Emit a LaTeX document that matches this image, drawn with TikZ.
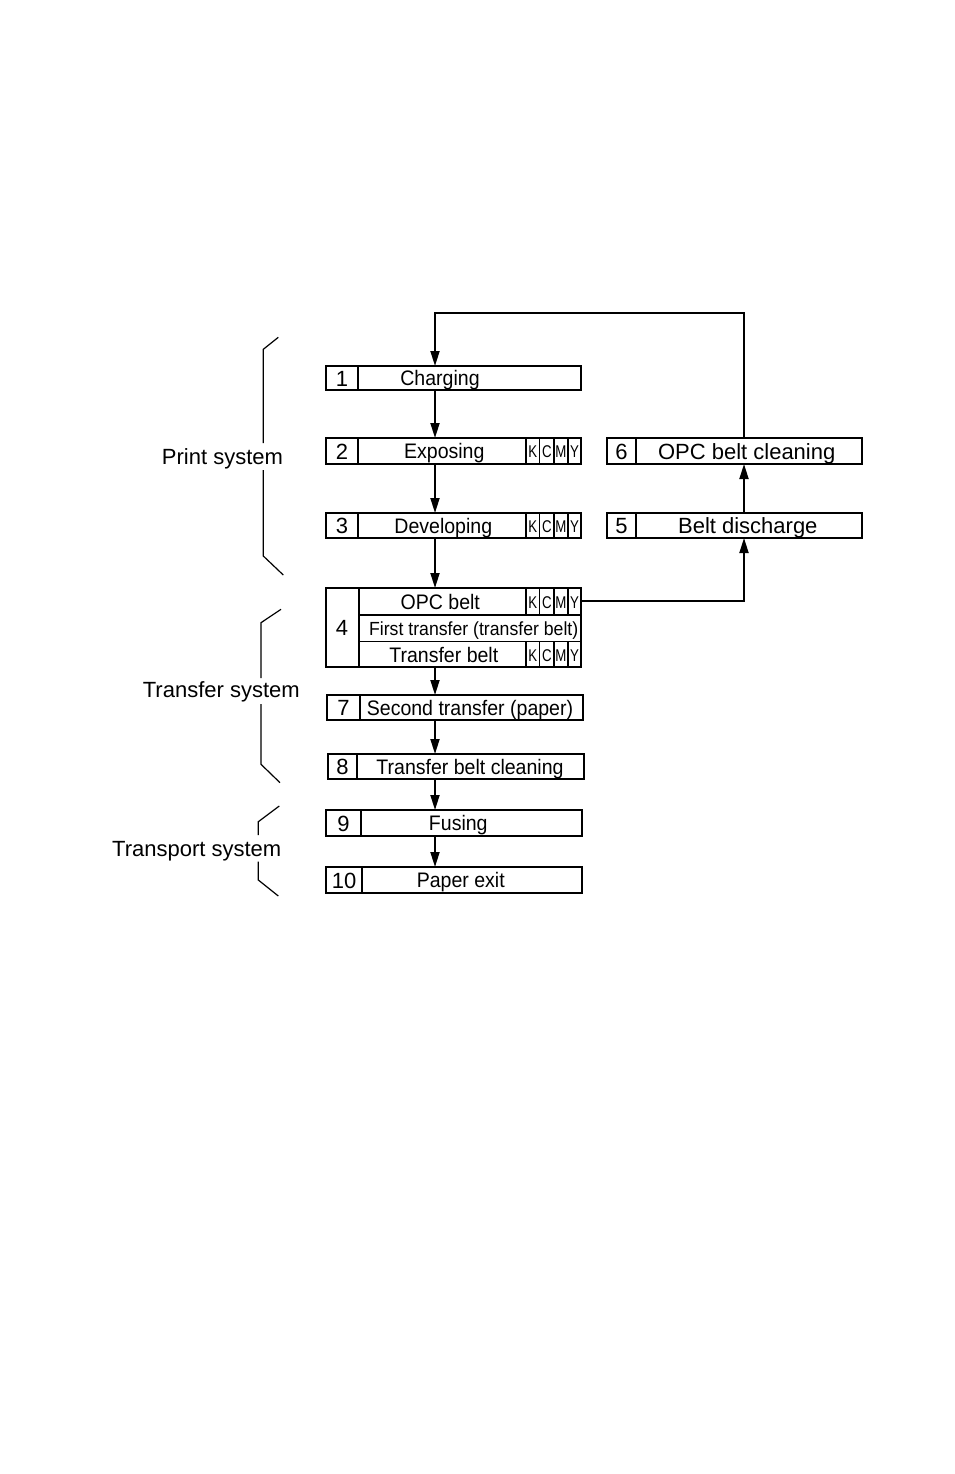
\documentclass[tikz,border=0pt]{standalone}
\usepackage{fontspec}
\setmainfont{Liberation Sans}
\usetikzlibrary{arrows.meta}
\tikzset{
  box/.style={draw, line width=1.5pt, inner sep=0pt, outer sep=0pt},
  sep/.style={line width=1.2pt},
  lbl/.style={anchor=base, inner sep=0pt, xscale=0.93, font=\fontsize{21}{21}\selectfont},
  slbl/.style={anchor=base, inner sep=0pt, xscale=0.93, font=\fontsize{19}{19}\selectfont},
  blbl/.style={anchor=base, inner sep=0pt, font=\fontsize{22}{22}\selectfont},
  num/.style={anchor=base, inner sep=0pt, font=\fontsize{22}{22}\selectfont},
  kc/.style={anchor=base, inner sep=0pt, xscale=0.78, font=\fontsize{17}{17}\selectfont},
  sys/.style={anchor=base, inner sep=0pt, font=\fontsize{22}{22}\selectfont},
  brk/.style={line width=1.2pt},
  flow/.style={line width=1.8pt, -{Triangle[length=15pt,width=9pt]}},
}
\begin{document}
\begin{tikzpicture}[x=1pt,y=-1pt]
\useasboundingbox (0,0) rectangle (954,1474);

% boxes
\node[box, minimum width=255pt, minimum height=24pt] (b1) at (453.5,378) {};
\node[box, minimum width=255pt, minimum height=26pt] (b2) at (453.5,451) {};
\node[box, minimum width=255pt, minimum height=25pt] (b3) at (453.5,525.5) {};
\node[box, minimum width=255pt, minimum height=79pt] (b4) at (453.5,627.5) {};
\node[box, minimum width=255pt, minimum height=25pt] (b5) at (734.5,525.5) {};
\node[box, minimum width=255pt, minimum height=26pt] (b6) at (734.5,451) {};
\node[box, minimum width=256pt, minimum height=25pt] (b7) at (455,707.5) {};
\node[box, minimum width=256pt, minimum height=25pt] (b8) at (456,766.5) {};
\node[box, minimum width=256pt, minimum height=26pt] (b9) at (454,823) {};
\node[box, minimum width=256pt, minimum height=26pt] (b10) at (454,880) {};

% number dividers
\draw[sep] (358,366) -- (358,390);
\draw[sep] (358,438) -- (358,464);
\draw[sep] (358,513) -- (358,538);
\draw[sep] (359,588) -- (359,667);
\draw[sep] (636,513) -- (636,538);
\draw[sep] (636,438) -- (636,464);
\draw[sep] (360,695) -- (360,720);
\draw[sep] (357,754) -- (357,779);
\draw[sep] (361,810) -- (361,836);
\draw[sep] (362,867) -- (362,893);
% rows of box 4
\draw[sep] (359,615) -- (581,615);
\draw[sep] (359,641.5) -- (581,641.5);
% KCMY cells
\foreach \ya/\yb in {438/464, 513/538, 588/615, 641.5/667} {
  \draw[sep] (526,\ya) -- (526,\yb);
  \draw[sep] (539.5,\ya) -- (539.5,\yb);
  \draw[sep] (554,\ya) -- (554,\yb);
  \draw[sep] (568,\ya) -- (568,\yb);
}
\foreach \yb [count=\i] in {457.5, 532, 608, 661} {
  \node[kc] (k\i) at (532.8,\yb) {K};
  \node[kc] (c\i) at (546.8,\yb) {C};
  \node[kc] (m\i) at (561,\yb) {M};
  \node[kc] (y\i) at (574.5,\yb) {Y};
}

% numbers
\node[num] (n1) at (342,386) {1};
\node[num] (n2) at (342,459) {2};
\node[num] (n3) at (342,533.5) {3};
\node[num] (n4) at (342,635.5) {4};
\node[num] (n5) at (621.5,533.5) {5};
\node[num] (n6) at (621.5,459) {6};
\node[num] (n7) at (343.5,715.5) {7};
\node[num] (n8) at (342.5,774.5) {8};
\node[num] (n9) at (343.5,831) {9};
\node[num] (n10) at (344,888) {10};

% labels
\node[lbl] (t1) at (440,385.5) {Charging};
\node[lbl] (t2) at (444.3,458.5) {Exposing};
\node[lbl] (t3) at (443.3,533) {Developing};
\node[lbl] (t4a) at (440.3,609) {OPC belt};
\node[slbl] (t4b) at (473.7,635) {First transfer (transfer belt)};
\node[lbl] (t4c) at (443.8,662) {Transfer belt};
\node[blbl] (t5) at (747.8,533) {Belt discharge};
\node[blbl] (t6) at (746.7,459) {OPC belt cleaning};
\node[lbl] (t7) at (470,715) {Second transfer (paper)};
\node[lbl] (t8) at (470,774) {Transfer belt cleaning};
\node[lbl] (t9) at (458.3,830.5) {Fusing};
\node[lbl] (t10) at (460.8,887.5) {Paper exit};

% system labels and brackets
\node[sys] (s1) at (222.5,464.3) {Print system};
\node[sys] (s2) at (221.3,697) {Transfer system};
\node[sys] (s3) at (196.7,856) {Transport system};
\draw[brk] (278.3,337.3) -- (263.3,349.3) -- (263.3,443);
\draw[brk] (263.3,470) -- (263.3,556) -- (283.3,575);
\draw[brk] (281,609.3) -- (261,622.7) -- (261,678);
\draw[brk] (261,704) -- (261,764.3) -- (280,782.7);
\draw[brk] (279.3,806) -- (258.3,821.7) -- (258.3,835);
\draw[brk] (258.3,861.7) -- (258.3,880) -- (278.3,896);

% flow arrows
\coordinate (loopR) at (744,313);
\coordinate (loopL) at (435,313);
\coordinate (o4) at (744,601);
\draw[flow] (b6.north -| loopR) -- (loopR) -- (loopL) -- (b1.north -| loopL);
\draw[flow] (b1.south -| loopL) -- (b2.north -| loopL);
\draw[flow] (b2.south -| loopL) -- (b3.north -| loopL);
\draw[flow] (b3.south -| loopL) -- (b4.north -| loopL);
\draw[flow] (b4.south -| loopL) -- (b7.north -| loopL);
\draw[flow] (b7.south -| loopL) -- (b8.north -| loopL);
\draw[flow] (b8.south -| loopL) -- (b9.north -| loopL);
\draw[flow] (b9.south -| loopL) -- (b10.north -| loopL);
\draw[flow] (b4.east |- o4) -- (o4) -- (b5.south -| o4);
\draw[flow] (b5.north -| o4) -- (b6.south -| o4);
\end{tikzpicture}
\end{document}
